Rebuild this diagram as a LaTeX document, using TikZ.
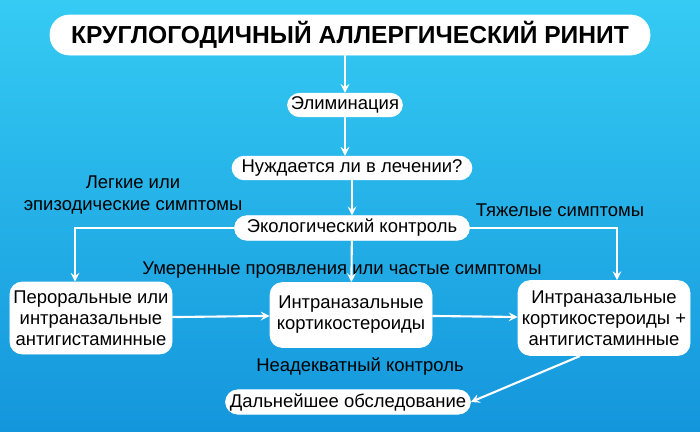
\documentclass[tikz,border=0pt]{standalone}
\usepackage{fontspec}
\setmainfont{Liberation Sans}
\usetikzlibrary{positioning}
\definecolor{bgtop}{HTML}{35CBF3}
\definecolor{bgbot}{HTML}{1496DC}
\begin{document}
\begin{tikzpicture}[box/.style={draw=white, fill=white, rounded corners=7pt, font=\fontsize{10.5}{12}\selectfont, align=center, inner sep=2pt},
	lab/.style={font=\fontsize{10.5}{12}\selectfont, align=center},
	arr/.style={->, white, line width=1.2pt, >=stealth}]
	\fill[top color=bgtop, bottom color=bgbot] (0,0) rectangle (14,8.62);
	\useasboundingbox (0,0) rectangle (14,8.62);

	\node [box, minimum width=12cm, minimum height=0.8cm, rounded corners=11pt, font=\bfseries\fontsize{14}{16}\selectfont] (T) at (7,7.92) {КРУГЛОГОДИЧНЫЙ АЛЛЕРГИЧЕСКИЙ РИНИТ};
	\node [box, minimum width=2.2cm] (E) at (6.9,6.52) {Элиминация};
	\node [box, minimum width=4.8cm] (N) at (7.04,5.26) {Нуждается ли в лечении?};
	\node [box, minimum width=4.7cm] (K) at (7.04,4.06) {Экологический контроль};
	\node [box, minimum width=3.24cm, minimum height=1.44cm] (L) at (1.82,2.26) {Пероральные или\\интраназальные\\антигистаминные};
	\node [box, minimum width=3.24cm, minimum height=1.3cm] (M) at (7.02,2.32) {Интраназальные\\кортикостероиды};
	\node [box, minimum width=3.44cm, minimum height=1.5cm] (R) at (12.08,2.26) {Интраназальные\\кортикостероиды +\\антигистаминные};
	\node [box, minimum width=4.9cm] (D) at (6.96,0.58) {Дальнейшее обследование};

	\node [lab] (l1) at (2.66,4.72) {Легкие или\\эпизодические симптомы};
	\node [lab] (l2) at (11.2,4.42) {Тяжелые симптомы};
	\node [lab] (l3) at (6.84,3.22) {Умеренные проявления или частые симптомы};
	\node [lab] (l4) at (7.2,1.28) {Неадекватный контроль};

	\draw[arr] (T.south -| E) -- (E);
	\draw[arr] (E) -- (N.north -| E);
	\draw[arr] (N.south -| K) -- (K);
	\draw[arr] (K.west) -| (L.north -| 1.5,0);
	\draw[arr] (K.east) -| (R.north -| 12.34,0);
	\draw[arr] (K) -- (M);
	\draw[arr] (L) -- (M);
	\draw[arr] (M) -- (R);
	\draw[arr] (11.6,1.5) -- (D.east);
\end{tikzpicture}
\end{document}
